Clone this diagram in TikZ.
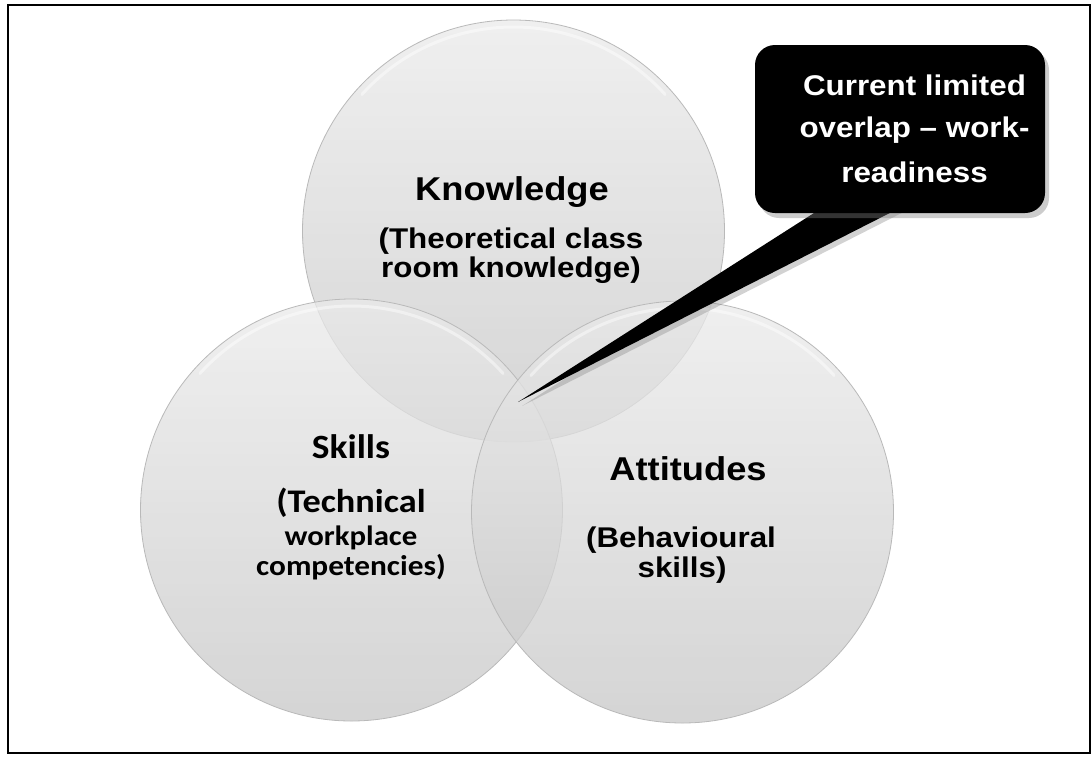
\documentclass[tikz,border=0pt]{standalone}
\usepackage{fontspec}
\setmainfont{Liberation Sans}
\newfontfamily\calib{Carlito}
\usetikzlibrary{shadows,calc}
\begin{document}
\begin{tikzpicture}[x=1pt,y=1pt,
  venn/.style={circle, minimum size=422pt, inner sep=0pt, top color=gray!16, bottom color=gray!44, fill opacity=0.75, draw=gray!55, line width=0.8pt},
  rim/.style={white, line width=3pt, opacity=0.45, line cap=round},
  lbl/.style={inner sep=0pt, anchor=base, xscale=1.1, transform shape, text=black},
  ar/.style={font=\fontsize{#1}{#1}\selectfont\bfseries},
  ca/.style={font=\fontsize{#1}{#1}\calib\bfseries},
  calltxt/.style={inner sep=0pt, anchor=base, xscale=1.1, transform shape, text=white, font=\fontsize{28.5}{28.5}\selectfont\bfseries},
  callbox/.style={fill=black, rounded corners=20pt, minimum width=290pt, minimum height=168pt, inner sep=0pt, drop shadow={shadow xshift=4pt, shadow yshift=-5pt, opacity=0.4}},
  tail/.style={fill=black, drop shadow={shadow xshift=4pt, shadow yshift=-4pt, opacity=0.35}}
]
\useasboundingbox (0,0) rectangle (1091,-756);
\fill[white] (0,0) rectangle (1091,-756);
\draw[line width=2pt] (8,-4.5) rectangle (1089.5,-752.5);

% circles
\node[venn] (K) at (513.5,-231) {};
\node[venn] (S) at (351.5,-510) {};
\node[venn] (A) at (682.5,-512) {};
\foreach \c in {K,S,A}{
  \draw[rim] ($(\c.center)+(138:204)$) arc[start angle=138, end angle=42, radius=204];
}

% knowledge
\node[lbl, ar=33] (k1) at (512,-200) {Knowledge};
\node[lbl, ar=28.5] (k2) at (511,-248) {(Theoretical class};
\node[lbl, ar=28.5] (k3) at (511,-277) {room knowledge)};

% skills
\node[lbl, ca=34] (s1) at (351,-458) {Skills};
\node[lbl, ca=33] (s2) at (351,-512) {(Technical};
\node[lbl, ca=28] (s3) at (351,-545) {workplace};
\node[lbl, ca=28.5] (s4) at (351,-575) {competencies)};

% attitudes
\node[lbl, ar=33] (a1) at (688,-480) {Attitudes};
\node[lbl, ar=28.5] (a2) at (681,-547) {(Behavioural};
\node[lbl, ar=28.5] (a3) at (682,-577) {skills)};

% callout
\coordinate (tip) at (518,-402);
\coordinate (b1) at (850,-190);
\coordinate (b2) at (935,-190);
\fill[tail] (tip) -- (b1) -- (b2) -- cycle;
\node[callbox] (box) at (900,-129) {};
\node[calltxt] (c1) at (914.5,-95) {Current limited};
\node[calltxt] (c2) at (914.5,-137) {overlap – work-};
\node[calltxt] (c3) at (914.5,-182) {readiness};
\end{tikzpicture}
\end{document}
